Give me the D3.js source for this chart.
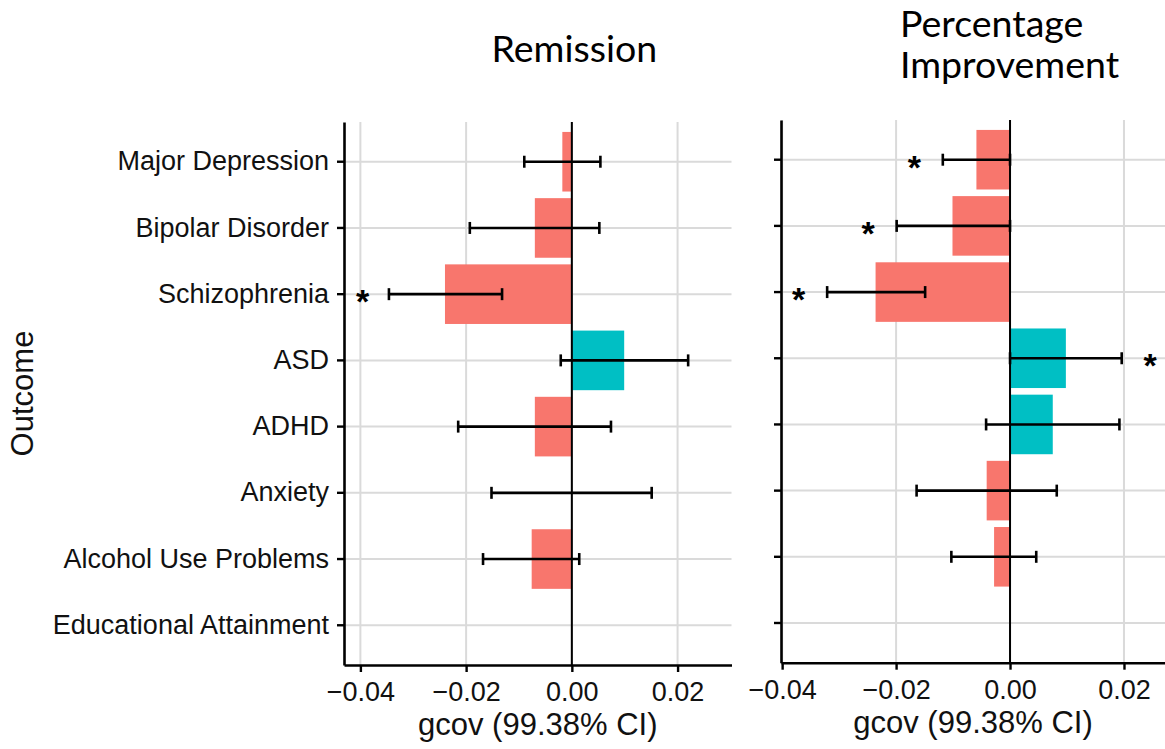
<!DOCTYPE html>
<html><head><meta charset="utf-8">
<script src="https://cdn.jsdelivr.net/npm/d3@7"></script>
<style>body{margin:0;background:#fff}</style>
</head><body><svg id="c" width="1165" height="749" style="display:block;background:#fff"></svg>
<script>
// ---------------- data ----------------
const outcomes = ["Major Depression","Bipolar Disorder","Schizophrenia","ASD","ADHD","Anxiety","Alcohol Use Problems","Educational Attainment"];
const xTicks = [-0.04, -0.02, 0, 0.02];
const xTickLabels = ["\u22120.04", "\u22120.02", "0.00", "0.02"];

const remissionEst = [-0.0018, -0.0070, -0.0240, 0.0099, -0.0070, 0.0000, -0.0076, null];
const remissionLo  = [-0.0090, -0.0193, -0.0346, -0.0021, -0.0215, -0.0152, -0.0168, null];
const remissionHi  = [ 0.0054,  0.0052, -0.0132,  0.0220,  0.0074,  0.0151,  0.0014, null];
const remissionSig = [null, null, "lo", null, null, null, null, null];

const improvementEst = [-0.0059, -0.0101, -0.0236, 0.0098, 0.0075, -0.0041, -0.0028, null];
const improvementLo  = [-0.0118, -0.0199, -0.0321, 0.0000, -0.0042, -0.0164, -0.0103, null];
const improvementHi  = [ 0.0000,  0.0000, -0.0149, 0.0196,  0.0192,  0.0082,  0.0046, null];
const improvementSig = ["lo", "lo", "lo", "hi", null, null, null, null];

const starOffset = 0.005;
const panelTitles = [["Remission"], ["Percentage", "Improvement"]];
const xAxisTitle = "gcov (99.38% CI)";
const yAxisTitle = "Outcome";

// ---------------- drawing ----------------
const svg = d3.select("#c");
const NEG = "#F8766D", POS = "#00BFC4", GRID = "#DADADA";
const TXT = "'Liberation Sans', Arial, Helvetica, sans-serif";
const TITLE = "Lato, 'Open Sans', sans-serif";

function drawPanel(cfg, est, lo, hi, sig) {
  const x = d3.scaleLinear().domain(cfg.domain).range([cfg.x0, cfg.x1]);
  const y = d3.scaleBand().domain(outcomes).range([cfg.y0, cfg.y1]).paddingInner(0.1).paddingOuter(0.15);
  const bw = y.bandwidth();
  const cy = c => y(c) + bw / 2;
  const g = svg.append("g");

  // grid
  g.selectAll(".vg").data(xTicks).join("line")
    .attr("x1", d => x(d)).attr("x2", d => x(d))
    .attr("y1", cfg.y0).attr("y2", cfg.y1)
    .attr("stroke", GRID).attr("stroke-width", 2);
  g.selectAll(".hg").data(outcomes).join("line")
    .attr("x1", cfg.x0).attr("x2", cfg.x1)
    .attr("y1", d => cy(d)).attr("y2", d => cy(d))
    .attr("stroke", GRID).attr("stroke-width", 2);

  const rows = outcomes.map((c, i) => ({c, v: est[i], lo: lo[i], hi: hi[i], s: sig[i]})).filter(d => d.v !== null);

  // bars
  g.selectAll(".bar").data(rows).join("rect")
    .attr("x", d => Math.min(x(0), x(d.v)))
    .attr("width", d => Math.abs(x(d.v) - x(0)))
    .attr("y", d => y(d.c)).attr("height", bw)
    .attr("fill", d => d.v < 0 ? NEG : POS);

  // zero line
  g.append("line").attr("x1", x(0)).attr("x2", x(0))
    .attr("y1", cfg.y0).attr("y2", cfg.y1)
    .attr("stroke", "#000").attr("stroke-width", 2);

  // error bars
  const eb = g.selectAll(".eb").data(rows).join("g").attr("stroke", "#000").attr("stroke-width", 2.6);
  eb.append("line").attr("x1", d => x(d.lo)).attr("x2", d => x(d.hi)).attr("y1", d => cy(d.c)).attr("y2", d => cy(d.c));
  eb.append("line").attr("x1", d => x(d.lo)).attr("x2", d => x(d.lo)).attr("y1", d => cy(d.c) - 6).attr("y2", d => cy(d.c) + 6);
  eb.append("line").attr("x1", d => x(d.hi)).attr("x2", d => x(d.hi)).attr("y1", d => cy(d.c) - 6).attr("y2", d => cy(d.c) + 6);

  // significance stars
  g.selectAll(".star").data(rows.filter(d => d.s)).join("text")
    .attr("x", d => d.s === "lo" ? x(d.lo - starOffset) : x(d.hi + starOffset))
    .attr("y", d => cy(d.c)).attr("dy", "0.56em")
    .attr("text-anchor", "middle")
    .style("font-family", TXT).style("font-size", "34px").style("font-weight", "bold").attr("fill", "#000")
    .text("*");

  // axes
  const ya = g.append("g").attr("transform", `translate(${cfg.x0},0)`)
    .call(d3.axisLeft(y).tickSize(7).tickSizeOuter(0).tickPadding(8)
      .tickFormat(cfg.labels ? (d => d) : () => ""));
  const xa = g.append("g").attr("transform", `translate(0,${cfg.y1})`)
    .call(d3.axisBottom(x).tickValues(xTicks).tickFormat((d, i) => xTickLabels[i])
      .tickSize(7).tickSizeOuter(0).tickPadding(10));
  [ya, xa].forEach(a => {
    a.select(".domain").attr("stroke", "#000").attr("stroke-width", 2.6);
    a.selectAll(".tick line").attr("stroke", "#000").attr("stroke-width", 2.4);
    a.selectAll(".tick text").attr("fill", "#111").style("font-family", TXT).style("font-size", "27px");
  });
  xa.selectAll(".tick text").attr("dy", "0.72em");

  // x axis title
  g.append("text").attr("x", (cfg.x0 + cfg.x1) / 2).attr("y", cfg.titleY)
    .attr("text-anchor", "middle").attr("fill", "#111")
    .style("font-family", TXT).style("font-size", "31px").text(xAxisTitle);

  // panel title
  const t = g.append("text").attr("fill", "#000").style("font-family", TITLE).style("font-size", "37.5px");
  cfg.title.forEach((line, i) => t.append("tspan").attr("x", cfg.tx).attr("y", cfg.ty + i * 41).text(line));
}

drawPanel({domain: [-0.0431, 0.0302], x0: 344, x1: 731.5, y0: 122, y1: 665, labels: true,
           titleY: 735, title: panelTitles[0], tx: 491.5, ty: 61.5},
          remissionEst, remissionLo, remissionHi, remissionSig);
drawPanel({domain: [-0.0402, 0.0272], x0: 781, x1: 1165, y0: 120, y1: 662.7, labels: false,
           titleY: 732.5, title: panelTitles[1], tx: 900, ty: 37},
          improvementEst, improvementLo, improvementHi, improvementSig);

// y axis title
svg.append("text").attr("transform", "translate(33,393.5) rotate(-90)")
  .attr("text-anchor", "middle").attr("fill", "#111")
  .style("font-family", TXT).style("font-size", "31px").text(yAxisTitle);
</script>
</body></html>
